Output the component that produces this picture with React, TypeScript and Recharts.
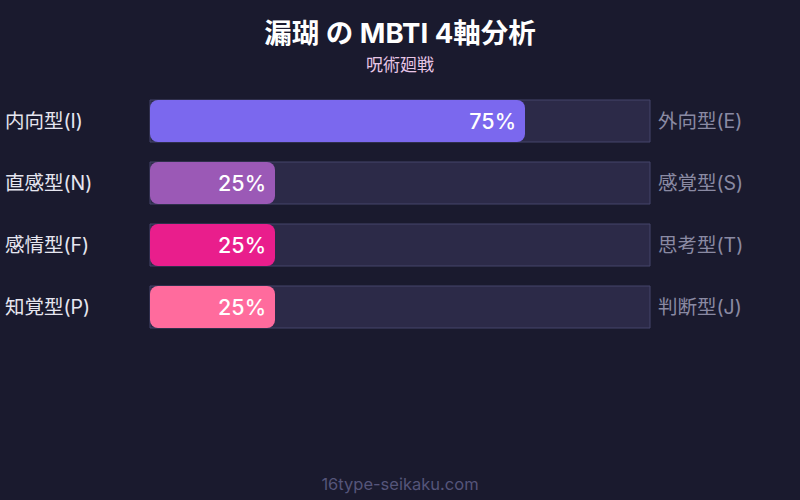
import React from 'react';
import { BarChart, Bar, XAxis, YAxis, LabelList, Cell } from 'recharts';

const leftLabels = ['内向型(I)', '直感型(N)', '感情型(F)', '知覚型(P)'];
const rightLabels = ['外向型(E)', '感覚型(S)', '思考型(T)', '判断型(J)'];
const scores = [75, 25, 25, 25];
const barColors = ['#7b68ee', '#9b59b6', '#e91e8c', '#ff6b9d'];

const FONT = 'Inter, "Noto Sans CJK JP", sans-serif';

const data = leftLabels.map((left, i) => ({
  left,
  right: rightLabels[i],
  value: scores[i],
}));

const LeftTick = (props: any) => {
  const { y, payload } = props;
  return (
    <text x={5} y={y} dy={7} fill="#e6e6f0" fontSize={19.5} fontFamily={FONT} textAnchor="start">
      {payload.value}
    </text>
  );
};

const RightTick = (props: any) => {
  const { y, payload } = props;
  return (
    <text x={658} y={y} dy={7} fill="#8a8aa3" fontSize={19.5} fontFamily={FONT} textAnchor="start">
      {payload.value}
    </text>
  );
};

export default function App() {
  return (
    <div style={{ position: 'absolute', left: 0, top: 0, width: 800, height: 500, background: '#1a1a2e' }}>
      <BarChart
        width={800}
        height={500}
        data={data}
        layout="vertical"
        margin={{ top: 90, right: 0, left: 0, bottom: 162 }}
        barCategoryGap={20}
      >
        <text x={400} y={43} textAnchor="middle" fill="#ffffff" fontSize={27.5} fontWeight={700} fontFamily={FONT}>
          漏瑚 の MBTI 4軸分析
        </text>
        <text x={400} y={71} textAnchor="middle" fill="#e8c6e6" fontSize={17} fontFamily={FONT}>
          呪術廻戦
        </text>
        <text x={400} y={490} textAnchor="middle" fill="#55557a" fontSize={16.5} fontFamily={FONT}>
          16type-seikaku.com
        </text>
        <XAxis type="number" domain={[0, 100]} hide />
        <YAxis
          yAxisId="left"
          type="category"
          dataKey="left"
          width={150}
          axisLine={false}
          tickLine={false}
          tick={<LeftTick />}
        />
        <YAxis
          yAxisId="right"
          orientation="right"
          type="category"
          dataKey="right"
          width={150}
          axisLine={false}
          tickLine={false}
          tick={<RightTick />}
        />
        <Bar
          yAxisId="left"
          dataKey="value"
          barSize={42}
          radius={8}
          isAnimationActive={false}
          background={{ fill: '#2c2a48', stroke: '#45446a', strokeWidth: 1, radius: 0 }}
        >
          {data.map((_, i) => (
            <Cell key={`cell-${i}`} fill={barColors[i]} />
          ))}
          <LabelList
            dataKey="value"
            position="insideRight"
            offset={9}
            formatter={(v: any) => `${v}%`}
            fill="#ffffff"
            fontSize={21.5}
            fontWeight={500}
            fontFamily={FONT}
          />
        </Bar>
      </BarChart>
    </div>
  );
}
